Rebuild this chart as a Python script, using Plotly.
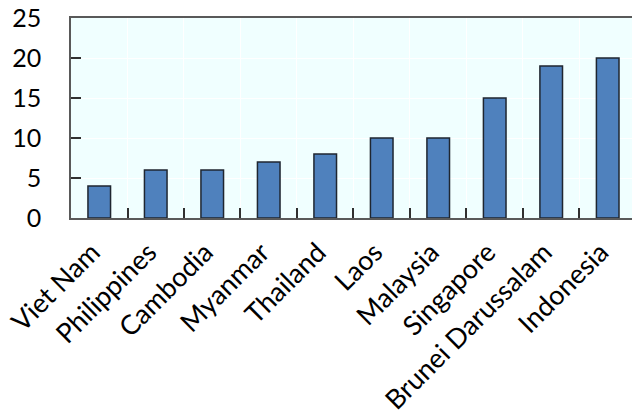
import plotly.graph_objects as go

countries = ["Viet Nam", "Philippines", "Cambodia", "Myanmar", "Thailand",
             "Laos", "Malaysia", "Singapore", "Brunei Darussalam", "Indonesia"]
values = [4, 6, 6, 7, 8, 10, 10, 15, 19, 20]
y_ticks = [0, 5, 10, 15, 20, 25]

fig = go.Figure(go.Bar(
    x=countries, y=values, width=0.4,
    marker=dict(color="#4F81BD", line=dict(color="#1F2630", width=1.5)),
))

xfont = dict(family="Lato", size=27, color="#000000")
yfont = dict(family="Lato", size=25, color="#000000")
fig.update_layout(
    width=632, height=417,
    margin=dict(l=71, r=0, t=18, b=199),
    paper_bgcolor="white", plot_bgcolor="#F0FFFF",
    showlegend=False, bargap=0.6,
    font=yfont,
)
fig.update_xaxes(
    range=[-0.5, 9.43], tickson="boundaries",
    ticks="inside", ticklen=10, tickwidth=1.5, tickcolor="#303030",
    showline=True, linecolor="#595959", linewidth=1.5, mirror=True,
    showgrid=True, gridcolor="white", gridwidth=1,
    tickangle=-45, tickfont=xfont, ticklabelshift=-7, ticklabelstandoff=6,
)
fig.update_yaxes(
    range=[0, 25], tickvals=y_ticks,
    ticks="inside", ticklen=10, tickwidth=1.5, tickcolor="#303030",
    showline=True, linecolor="#595959", linewidth=1.5,
    showgrid=True, gridcolor="white", gridwidth=1, zeroline=False,
    tickfont=yfont, ticklabelstandoff=23,
)
fig.write_html("out.html")
